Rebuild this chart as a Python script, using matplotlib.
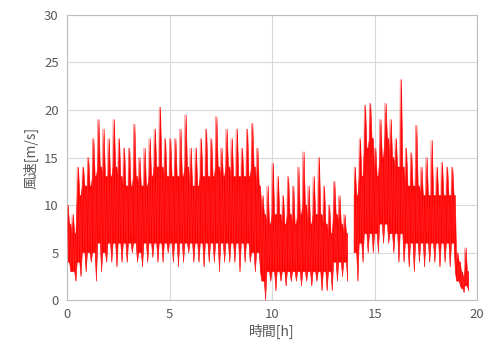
import numpy as np
import matplotlib
matplotlib.use("Agg")
import matplotlib.pyplot as plt

plt.rcParams['font.family'] = ['Noto Sans CJK JP', 'DejaVu Sans']

# time [h] and envelopes (peak, trough, dense core top/bottom)
t = [0.0, 0.25, 0.5, 0.75, 1.0, 1.25, 1.5, 1.75, 2.0, 2.25, 2.5, 2.75, 3.0, 3.25, 3.5, 3.75,
     4.0, 4.25, 4.5, 4.75, 5.0, 5.25, 5.5, 5.75, 6.0, 6.25, 6.5, 6.75, 7.0, 7.25, 7.5, 7.75,
     8.0, 8.25, 8.5, 8.75, 9.0, 9.25, 9.5, 9.75, 10.0, 10.25, 10.5, 10.75, 11.0, 11.25, 11.5, 11.75,
     12.0, 12.25, 12.5, 12.75, 13.0, 13.25, 13.5, 13.75, 14.0, 14.25, 14.5, 14.75, 15.0, 15.25, 15.5, 15.75,
     16.0, 16.25, 16.5, 16.75, 17.0, 17.25, 17.5, 17.75, 18.0, 18.25, 18.5, 18.75, 19.0, 19.25, 19.4]
peak = [10, 9, 14, 14, 15, 17, 19, 18, 17, 19, 17, 16, 16, 18.5, 15, 16,
        17, 18, 20.3, 17, 17, 17, 18, 19.5, 16, 16, 17, 18, 17, 19.3, 16, 18,
        17, 18, 16, 18, 18.6, 16, 11, 12, 14.4, 13, 11, 13, 12, 14, 15.6, 12,
        13, 15, 12, 10, 12.5, 11, 9, np.nan, 14, 17, 20.5, 20.7, 16, 19, 20.7, 19,
        17, 23.2, 16, 15.5, 18.4, 14, 15, 16.8, 14, 14.5, 14, 14, 5, 3, 5.5]
trough = [3, 2, 2.5, 3, 4, 2, 3, 4, 4, 3.5, 4, 4, 5, 4, 3.5, 4,
          4.5, 4, 4, 5, 4, 3.5, 4, 5, 4, 4, 3.5, 4, 4, 3, 4, 4,
          4, 3, 4, 4, 3, 3, 0, 2, 1, 2, 1.5, 2, 2, 1.5, 2, 1.5,
          2, 1, 1, 1, 2, 2.5, 2, np.nan, 2, 4, 5, 5, 5, 6, 6, 5,
          4, 4, 3.5, 3, 4, 3.5, 4, 4, 3.5, 4, 3.5, 3, 1.5, 0.8, 1]
core_hi = [8, 7, 11, 12, 12, 13, 14, 13, 13, 14, 13, 12, 12, 13, 12, 12,
           13, 14, 14, 13, 13, 13, 13, 14, 12, 12, 13, 13, 13, 14, 13, 14,
           13, 13, 13, 13, 14, 12, 9, 8, 9, 9, 8, 9, 8, 9, 10, 8,
           9, 9, 8, 7, 9, 8, 7, np.nan, 11, 13, 16, 17, 13, 15, 17, 15,
           14, 14, 12, 12, 12, 11, 11, 11, 11, 11, 11, 11, 4, 2.5, 3]
core_lo = [4, 3, 4, 5, 5, 5, 6, 5, 6, 6, 6, 6, 6, 6, 5, 6,
           6, 6, 6, 6, 6, 6, 6, 6, 6, 6, 6, 6, 6, 6, 6, 6,
           6, 6, 6, 6, 5, 5, 2, 3, 3, 3, 3, 3, 3, 3, 3, 3,
           3, 3, 3, 3, 4, 4, 4, np.nan, 5, 6, 7, 7, 7, 8, 8, 7,
           7, 7, 6, 6, 6, 6, 6, 6, 6, 6, 6, 6, 2, 1.2, 1.5]

t = np.array(t)
peak = np.array(peak, dtype=float)
trough = np.array(trough, dtype=float)
core_hi = np.array(core_hi, dtype=float)
core_lo = np.array(core_lo, dtype=float)

# spread each reading over its time step so peaks/troughs become narrow spikes
q = np.diff(t, append=t[-1] + 0.25) / 4
zx = np.column_stack([t, t + q, t + 2 * q, t + 3 * q]).ravel()
top = np.column_stack([core_hi, peak, core_hi, core_hi]).ravel()
bot = np.column_stack([core_lo, core_lo, core_lo, trough]).ravel()
zig = np.column_stack([peak, core_lo, core_hi, trough]).ravel()

fig, ax = plt.subplots(figsize=(4.96, 3.47), dpi=100)
fig.subplots_adjust(left=0.135, right=0.962, bottom=0.135, top=0.957)

ax.fill_between(zx, bot, top, color='#ff0000', lw=0.4, edgecolor='#ff0000', zorder=2)
ax.plot(zx, zig, color='#ff3030', lw=0.5, alpha=0.7, zorder=3)

ax.set_xlim(0, 20)
ax.set_ylim(0, 30)
ax.set_xticks([0, 5, 10, 15, 20])
ax.set_yticks([0, 5, 10, 15, 20, 25, 30])
ax.grid(color='#d9d9d9', lw=0.8)
ax.set_axisbelow(True)
for s in ax.spines.values():
    s.set_color('#bfbfbf')
ax.tick_params(length=0, labelsize=9.5, colors='#595959', pad=6)
ax.set_xlabel('時間[h]', fontsize=10, color='#595959', labelpad=2)
ax.set_ylabel('風速[m/s]', fontsize=10, color='#595959', labelpad=4)

fig.savefig('out.png', dpi=100)
